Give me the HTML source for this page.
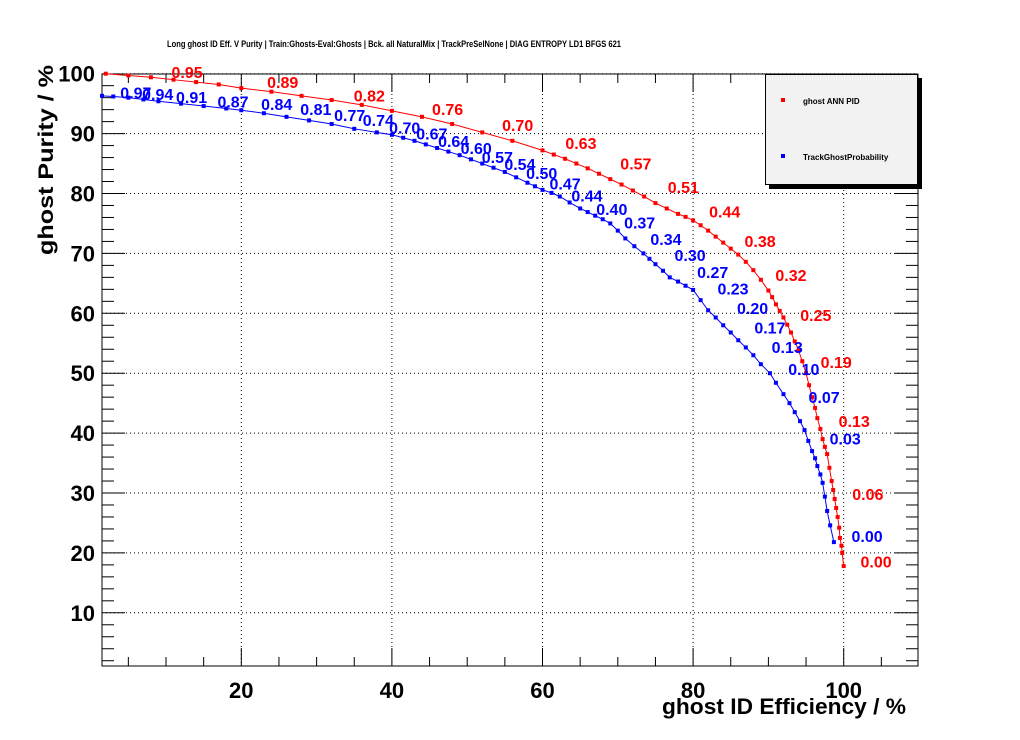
<!DOCTYPE html>
<html><head><meta charset="utf-8">
<style>
html,body{margin:0;padding:0;background:#fff;}
svg{display:block;font-family:"Liberation Sans",Arial,sans-serif;}
</style></head>
<body>
<svg id="chart" width="1020" height="740" viewBox="0 0 1020 740">
<rect x="0" y="0" width="1020" height="740" fill="#fff"/>
<text x="394" y="47" text-anchor="middle" font-size="9" font-weight="bold" textLength="454" lengthAdjust="spacingAndGlyphs">Long ghost ID Eff. V Purity | Train:Ghosts-Eval:Ghosts | Bck. all NaturalMix | TrackPreSelNone | DIAG ENTROPY LD1 BFGS 621</text>
<g id="grid"></g>
<g id="ticks"></g>
<rect x="102" y="74" width="816" height="592" fill="none" stroke="#000" stroke-width="1"/>
<g id="series"></g>
<g id="labels"></g>
<text x="906" y="714" text-anchor="end" font-size="22" font-weight="bold" textLength="244" lengthAdjust="spacingAndGlyphs">ghost ID Efficiency / %</text>
<text transform="translate(53,160) rotate(-90)" text-anchor="middle" font-size="21" font-weight="bold" textLength="190" lengthAdjust="spacingAndGlyphs">ghost Purity / %</text>
<g>
<rect x="769" y="78" width="153" height="111" fill="#000"/>
<rect x="765.5" y="74.5" width="152" height="110" fill="#f2f2f2" stroke="#000"/>
<rect x="781" y="98" width="4" height="4" fill="#f00"/>
<text x="803" y="104" font-size="8" font-weight="bold">ghost ANN PID</text>
<rect x="781" y="154" width="4" height="4" fill="#00f"/>
<text x="803" y="160" font-size="8" font-weight="bold">TrackGhostProbability</text>
</g>
</svg>
<script>
const xTicks=[20,40,60,80,100];
const yTicks=[10,20,30,40,50,60,70,80,90,100];
const annEff=[2,5,8,11,14,17,20,24,28,32,36,40,44,48,52,56,60,61.5,63,64.5,66,67.5,69,70.5,72,73.5,75,76.5,78,79,80,81,82,83,84,85,86,87,88,89,90,90.5,91,91.5,92,92.5,93,93.5,94,94.5,95,95.4,95.8,96.2,96.5,96.9,97.2,97.5,97.8,98.1,98.4,98.6,98.8,99,99.2,99.4,99.5,99.7,99.8,100];
const annPur=[100,99.7,99.4,99,98.6,98.2,97.6,97,96.3,95.6,94.8,93.8,92.8,91.6,90.2,88.8,87.2,86.5,85.8,85,84.2,83.3,82.4,81.5,80.5,79.5,78.4,77.5,76.6,76.1,75.5,74.7,73.8,72.8,71.8,70.8,69.8,68.6,67.2,65.6,63.8,62.7,61.5,60.4,59.3,58.1,56.8,55.3,53.8,52,50,48,46,44.2,42.5,40.7,39,37.7,36.5,34.2,32,30.5,29,27.5,26,24.2,22.5,21.2,20,17.8];
const tgpEff=[1.5,3,5,7,9,12,15,18,20,23,26,29,32,35,38,40,41.5,43,44.5,46,47.5,49,50.5,52,53.5,55,56.5,58,59,60,61.2,62.3,63.6,65,66,67,68,69,70,71,72.2,73.4,74.2,75,76,76.9,78,79,80,81,82,83,84,85,86,87,88,89,90.2,91,92,92.8,93.5,94.2,94.8,95.3,95.8,96.2,96.5,96.9,97.2,97.5,97.8,98.2,98.7];
const tgpPur=[96.3,96.2,96,95.7,95.4,95,94.6,94.2,93.9,93.4,92.8,92.2,91.6,90.8,90.2,89.8,89.3,88.8,88.2,87.6,87,86.4,85.7,85,84.3,83.6,82.7,81.8,81.2,80.6,80.1,79.5,78.5,77.5,76.9,76.3,75.7,75,73.8,72.5,71.2,70,69.1,68.2,67.1,66,65.3,64.6,63.9,62.2,60.5,59.3,58,56.8,55.5,54.3,53,51.5,50,48.4,46.5,45,43.5,42,40.5,38.7,37,35.8,34.5,33.1,31.7,29.4,27,24.6,21.8];
const annLabels=["0.95","0.89","0.82","0.76","0.70","0.63","0.57","0.51","0.44","0.38","0.32","0.25","0.19","0.13","0.06","0.00"];
const annLabEff=[12.8,25.5,37,47.4,56.7,65.1,72.4,78.7,84.2,88.9,93,96.3,99,101.4,103.2,104.3];
const annLabPur=[100.3,98.6,96.4,94.1,91.4,88.4,85,81.1,77,72.1,66.4,59.7,51.9,42,29.8,18.6];
const tgpLabels=["0.97","0.94","0.91","0.87","0.84","0.81","0.77","0.74","0.70","0.67","0.64","0.60","0.57","0.54","0.50","0.47","0.44","0.40","0.37","0.34","0.30","0.27","0.23","0.20","0.17","0.13","0.10","0.07","0.03","0.00"];
const tgpLabEff=[6.0,8.9,13.4,18.9,24.7,29.9,34.4,38.2,41.7,45.3,48.2,51.2,54,57,59.9,63,65.9,69.2,72.9,76.4,79.6,82.6,85.3,87.9,90.2,92.5,94.7,97.4,100.2,103.1];
const tgpLabPur=[96.9,96.6,96.1,95.4,94.9,94.1,93.1,92.3,91,90,88.8,87.6,86.1,84.9,83.4,81.7,79.7,77.4,75.2,72.4,69.7,66.9,64.1,60.9,57.6,54.4,50.7,46,39.1,22.8];

const NS="http://www.w3.org/2000/svg";
const L=102,R=918,T=74,B=666;
function X(v){return 90.7+7.53*v;}
function Y(v){return 672.7-5.99*v;}
function mk(tag,attrs,parent){const e=document.createElementNS(NS,tag);for(const k in attrs)e.setAttribute(k,attrs[k]);parent.appendChild(e);return e;}
const grid=document.getElementById('grid'),ticks=document.getElementById('ticks');
xTicks.forEach(v=>{
  const g=mk('line',{x1:X(v),x2:X(v),y1:T,y2:B,stroke:'#000','stroke-dasharray':'1,3','stroke-width':1},grid);
  
  
  const t=mk('text',{x:X(v),y:698,'text-anchor':'middle','font-size':22,'font-weight':'bold'},ticks);
  t.textContent=v;
  
  
});
yTicks.forEach(v=>{
  const g=mk('line',{x1:L,x2:R,y1:Y(v),y2:Y(v),stroke:'#000','stroke-dasharray':'1,3','stroke-width':1},grid);
  
  
  const t=mk('text',{x:95,y:Y(v)+8,'text-anchor':'end','font-size':22,'font-weight':'bold'},ticks);
  t.textContent=v;
  
  
});
for(let v=5;v<=105;v+=5){const x=X(v);if(x<L||x>R)continue;const len=(v%20===0)?18:9;
  mk('line',{x1:x,x2:x,y1:B,y2:B-len,stroke:'#000'},ticks);
  mk('line',{x1:x,x2:x,y1:T,y2:T+len,stroke:'#000'},ticks);}
for(let v=2;v<=100;v+=2){const y=Y(v);if(y<T||y>B)continue;const len=(v%10===0)?23:12;
  mk('line',{x1:L,x2:L+len,y1:y,y2:y,stroke:'#000'},ticks);
  mk('line',{x1:R,x2:R-len,y1:y,y2:y,stroke:'#000'},ticks);}
function drawSeries(ex,py,col,name){
  const s=document.getElementById('series');
  const p=mk('polyline',{points:ex.map((e,i)=>X(e)+','+Y(py[i])).join(' '),fill:'none',stroke:col,'stroke-width':1},s);
  
  
  ex.forEach((e,i)=>{
    const r=mk('rect',{x:X(e)-2,y:Y(py[i])-2,width:4,height:4,fill:col},s);
    
    
  });
}
drawSeries(annEff,annPur,'#f00','ann-pid');
drawSeries(tgpEff,tgpPur,'#00f','track-ghost-prob');
function drawLabels(txt,ex,py,col,name){
  const g=document.getElementById('labels');
  txt.forEach((s,i)=>{
    const t=mk('text',{x:X(ex[i]),y:Y(py[i])+6,'text-anchor':'middle','font-size':16,'font-weight':'bold',fill:col},g);
    t.textContent=s;
    
    
  });
}
drawLabels(annLabels,annLabEff,annLabPur,'#f00','ann-pid');
drawLabels(tgpLabels,tgpLabEff,tgpLabPur,'#00f','track-ghost-prob');
</script>
</body></html>
